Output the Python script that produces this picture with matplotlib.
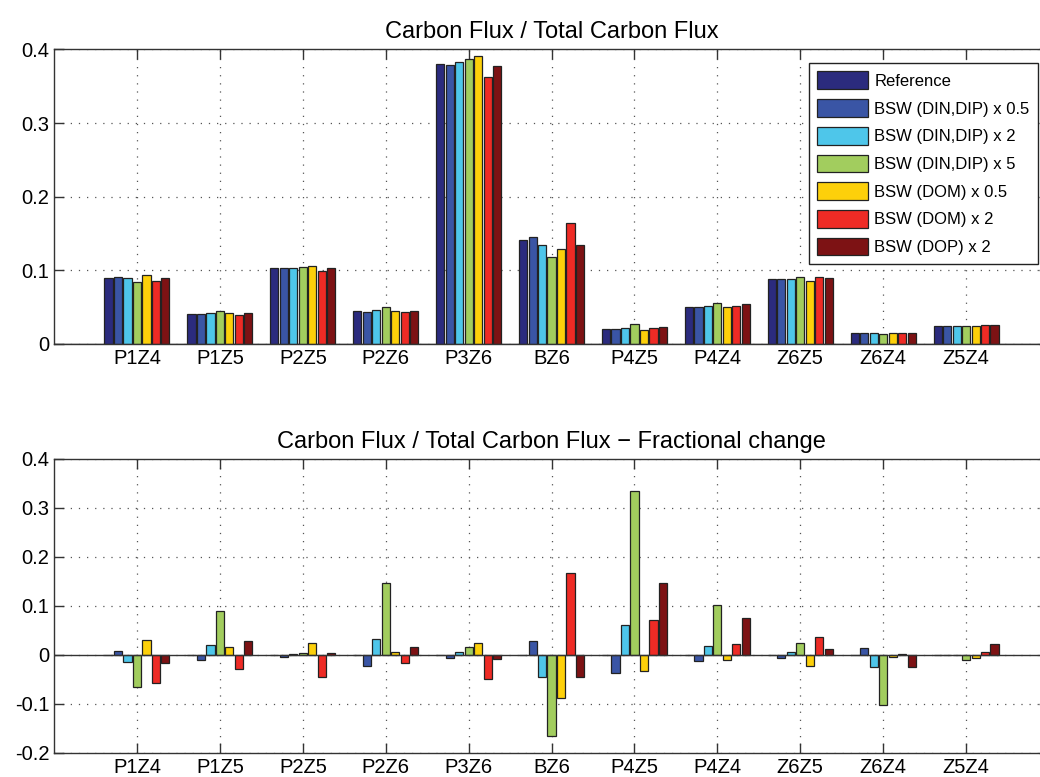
import numpy as np
import matplotlib
matplotlib.use("Agg")
from matplotlib import pyplot as plt
from matplotlib.ticker import FuncFormatter

plt.rcParams['font.family'] = ['Liberation Sans', 'DejaVu Sans']

# ---- data ----
fluxes = ['P1Z4', 'P1Z5', 'P2Z5', 'P2Z6', 'P3Z6', 'BZ6',
          'P4Z5', 'P4Z4', 'Z6Z5', 'Z6Z4', 'Z5Z4']

runs = ['Reference', 'BSW (DIN,DIP) x 0.5', 'BSW (DIN,DIP) x 2',
        'BSW (DIN,DIP) x 5', 'BSW (DOM) x 0.5', 'BSW (DOM) x 2',
        'BSW (DOP) x 2']

colors = ['#2B2B7E', '#3A55A5', '#4EC6EA', '#A2CD5E',
          '#FDD00A', '#EE2B25', '#7D1214']

# fraction of total carbon flux, one list per run (same order as fluxes)
ref      = [0.0901, 0.0405, 0.1032, 0.0446, 0.3806, 0.1414, 0.0198, 0.0509, 0.0883, 0.0149, 0.0248]
dindip05 = [0.0914, 0.0405, 0.1027, 0.0432, 0.3793, 0.1450, 0.0198, 0.0500, 0.0878, 0.0149, 0.0248]
dindip2  = [0.0892, 0.0419, 0.1032, 0.0455, 0.3824, 0.1351, 0.0216, 0.0518, 0.0887, 0.0144, 0.0248]
dindip5  = [0.0847, 0.0446, 0.1041, 0.0500, 0.3869, 0.1176, 0.0266, 0.0559, 0.0905, 0.0131, 0.0248]
dom05    = [0.0932, 0.0414, 0.1059, 0.0446, 0.3905, 0.1288, 0.0194, 0.0500, 0.0860, 0.0144, 0.0248]
dom2     = [0.0856, 0.0396, 0.0995, 0.0432, 0.3626, 0.1640, 0.0216, 0.0518, 0.0914, 0.0144, 0.0252]
dop2     = [0.0892, 0.0419, 0.1032, 0.0450, 0.3779, 0.1342, 0.0234, 0.0545, 0.0892, 0.0144, 0.0252]

# fractional change relative to the reference run
ch_ref      = [0.0] * 11
ch_dindip05 = [0.0089, -0.0102, -0.0034, -0.0218, -0.0068, 0.0286, -0.0374, -0.0122, -0.0068, 0.0140, 0.0]
ch_dindip2  = [-0.0143, 0.0197, 0.0020, 0.0320, 0.0061, -0.0442, 0.0612, 0.0184, 0.0068, -0.0250, -0.0010]
ch_dindip5  = [-0.0654, 0.0905, 0.0048, 0.1459, 0.0157, -0.1653, 0.3354, 0.1014, 0.0238, -0.1021, -0.0096]
ch_dom05    = [0.0313, 0.0163, 0.0238, 0.0061, 0.0252, -0.0884, -0.0333, -0.0109, -0.0231, -0.0050, -0.0065]
ch_dom2     = [-0.0566, -0.0286, -0.0442, -0.0163, -0.0497, 0.1667, 0.0707, 0.0231, 0.0361, 0.0030, 0.0068]
ch_dop2     = [-0.0170, 0.0286, 0.0040, 0.0163, -0.0082, -0.0456, 0.1459, 0.0762, 0.0122, -0.0250, 0.0224]

top_series = [ref, dindip05, dindip2, dindip5, dom05, dom2, dop2]
bot_series = [ch_ref, ch_dindip05, ch_dindip2, ch_dindip5, ch_dom05, ch_dom2, ch_dop2]

# ---- figure ----
fig = plt.figure(figsize=(10.4, 7.77), dpi=100)
ax1 = fig.add_axes([0.052, 0.5573, 0.9567, 0.379])
ax2 = fig.add_axes([0.052, 0.0309, 0.9567, 0.3784])

x = np.arange(1, len(fluxes) + 1)
nrun = len(runs)
slot = 0.8 / nrun
barw = slot * 0.86


def draw(ax, series, ylim, yticks, title, legend=False):
    for i, vals in enumerate(series):
        offs = (i - (nrun - 1) / 2) * slot
        ax.bar(x + offs, vals, width=barw, color=colors[i],
               edgecolor='#222222', linewidth=0.9, label=runs[i], zorder=3)
    ax.axhline(0, color='#333333', linewidth=1.0, zorder=4)
    ax.set_xlim(0, 12)
    ax.set_ylim(*ylim)
    ax.set_xticks(x)
    ax.set_xticklabels(fluxes)
    ax.set_yticks(yticks)
    ax.yaxis.set_major_formatter(FuncFormatter(lambda v, p: '%g' % round(v, 3)))
    ax.tick_params(direction='in', length=7, width=1.0, color='#333333',
                   top=True, right=True, labelsize=14.5, pad=3.5)
    ax.grid(True, linestyle=(0, (1, 5.5)), color='#555555', linewidth=0.9, zorder=0)
    for s in ax.spines.values():
        s.set_color('#333333')
        s.set_linewidth(1.0)
    ax.set_title(title, fontsize=17, pad=8)
    if legend:
        leg = ax.legend(loc='upper right', bbox_to_anchor=(1038 / 1040, 1 - 63 / 777),
                        bbox_transform=fig.transFigure, fontsize=12,
                        handlelength=3.05, handleheight=1.26, handletextpad=0.4,
                        labelspacing=0.6, borderpad=0.5, borderaxespad=0,
                        fancybox=False, framealpha=1, edgecolor='#222222')
        leg.get_frame().set_linewidth(1.0)


draw(ax1, top_series, (0, 0.4), [0, 0.1, 0.2, 0.3, 0.4],
     'Carbon Flux / Total Carbon Flux', legend=True)
draw(ax2, bot_series, (-0.2, 0.4), [-0.2, -0.1, 0, 0.1, 0.2, 0.3, 0.4],
     'Carbon Flux / Total Carbon Flux \u2212 Fractional change')

fig.savefig('out.png', dpi=100)
